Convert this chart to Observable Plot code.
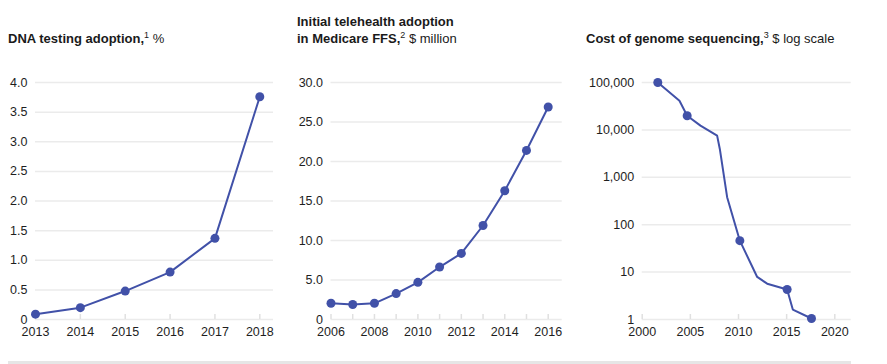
<!DOCTYPE html>
<html>
<head>
<meta charset="utf-8">
<script src="https://cdn.jsdelivr.net/npm/d3@7"></script>
<script src="https://cdn.jsdelivr.net/npm/@observablehq/plot@0.6"></script>
<style>
  html, body { margin: 0; padding: 0; background: #fff; }
  body { width: 887px; height: 364px; position: relative; overflow: hidden;
         font-family: "Liberation Sans", Arial, sans-serif; color: #1a1a1a; }
  .title { position: absolute; font-size: 13px; line-height: 17px; white-space: nowrap; }
  .title b { font-weight: bold; }
  .title sup { font-size: 9px; vertical-align: baseline; position: relative; top: -5px; line-height: 0; }
  .panel { position: absolute; top: 60px; }
  .bar { position: absolute; left: 8px; top: 361px; width: 843px; height: 3px; background: #e6e6e6; }
</style>
</head>
<body>
<div class="title" style="left:8px; top:30px;"><b>DNA testing adoption,</b><sup>1</sup> %</div>
<div class="title" style="left:297px; top:13px;"><b>Initial telehealth adoption</b><br><b>in Medicare FFS,</b><sup>2</sup> $ million</div>
<div class="title" style="left:586px; top:30px;"><b>Cost of genome sequencing,</b><sup>3</sup> $ log scale</div>
<div id="p1" class="panel" style="left:0px;"></div>
<div id="p2" class="panel" style="left:290px;"></div>
<div id="p3" class="panel" style="left:580px;"></div>
<div class="bar"></div>
<script>
// ---- Data ----
const dnaYears = [2013, 2014, 2015, 2016, 2017, 2018];
const dnaAdoption = [0.09, 0.2, 0.48, 0.8, 1.37, 3.76];
const dnaYTicks = [0, 0.5, 1, 1.5, 2, 2.5, 3, 3.5, 4];

const teleYears = [2006, 2007, 2008, 2009, 2010, 2011, 2012, 2013, 2014, 2015, 2016];
const teleSpend = [2.06, 1.9, 2.05, 3.28, 4.7, 6.64, 8.37, 11.9, 16.3, 21.4, 26.9];
const teleYTicks = [0, 5, 10, 15, 20, 25, 30];
const teleXLabels = [2006, 2008, 2010, 2012, 2014, 2016];

const genomeYears = [2001.62, 2003.87, 2004.67, 2006.05, 2007.78, 2008.06, 2008.82, 2010.14, 2011.94, 2012.98, 2015.05, 2015.64, 2017.58];
const genomeCost = [100000, 41200, 19900, 12300, 7560, 3960, 380, 46, 7.9, 5.7, 4.3, 1.62, 1.05];
const genomeMarked = [true, false, true, false, false, false, false, true, false, false, true, false, true];
const genomeYTicks = [1, 10, 100, 1000, 10000, 100000];
const genomeXTicks = [2000, 2005, 2010, 2015, 2020];

// ---- Style ----
const LINE = "#4151a8";
const GRID = "#ebebeb";
const TICK = "#e0e0e0";
const TEXT = "#1e1e1e";
const H = 285, MT = 22, MB = 26;
const INNER = H - MT - MB;

function panel({width, ml, mr, xDomain, xRange, yScale, yTicks, yFmt, xTicks, xLabels, data, marked}) {
  return Plot.plot({
    width, height: H, marginTop: MT, marginBottom: MB, marginLeft: ml, marginRight: mr,
    x: {domain: xDomain, range: xRange, label: null},
    y: {...yScale, label: null},
    style: {fontFamily: '"Liberation Sans", Arial, sans-serif', fontSize: "12.5px", color: TEXT, background: "transparent", overflow: "visible"},
    marks: [
      Plot.gridY(yTicks, {stroke: GRID, strokeOpacity: 1, strokeWidth: 1.5}),
      Plot.tickX(xTicks, {x: d => d, insetTop: INNER - 5, stroke: TICK, strokeWidth: 1.5}),
      Plot.axisY(yTicks, {tickSize: 0, tickPadding: 8, tickFormat: yFmt, label: null}),
      Plot.axisX(xLabels, {tickSize: 0, tickPadding: 8, tickFormat: d => String(d), label: null}),
      Plot.line(data, {x: "x", y: "y", stroke: LINE, strokeWidth: 2}),
      Plot.dot(data.filter(marked), {x: "x", y: "y", r: 4.5, fill: LINE, stroke: "none"})
    ]
  });
}

const dnaData = dnaYears.map((x, i) => ({x, y: dnaAdoption[i]}));
document.getElementById("p1").append(panel({
  width: 285, ml: 35, mr: 12, xDomain: [2013, 2018], xRange: [35, 259.3],
  yScale: {domain: [0, 4]}, yTicks: dnaYTicks,
  yFmt: d => d === 0 ? "0" : d.toFixed(1),
  xTicks: dnaYears, xLabels: dnaYears, data: dnaData, marked: () => true
}));

const teleData = teleYears.map((x, i) => ({x, y: teleSpend[i]}));
document.getElementById("p2").append(panel({
  width: 280, ml: 40.5, mr: 8.3, xDomain: [2006, 2016], xRange: [40.5, 257.7],
  yScale: {domain: [0, 30]}, yTicks: teleYTicks,
  yFmt: d => d === 0 ? "0" : d.toFixed(1),
  xTicks: teleYears, xLabels: teleXLabels, data: teleData, marked: () => true
}));

const genomeData = genomeYears.map((x, i) => ({x, y: genomeCost[i], m: genomeMarked[i]}));
document.getElementById("p3").append(panel({
  width: 290, ml: 61.7, mr: 19.3, xDomain: [2000, 2020], xRange: [61.7, 254.3],
  yScale: {type: "log", domain: [1, 100000]}, yTicks: genomeYTicks,
  yFmt: d3.format(","),
  xTicks: genomeXTicks, xLabels: genomeXTicks, data: genomeData, marked: d => d.m
}));
</script>
</body>
</html>
